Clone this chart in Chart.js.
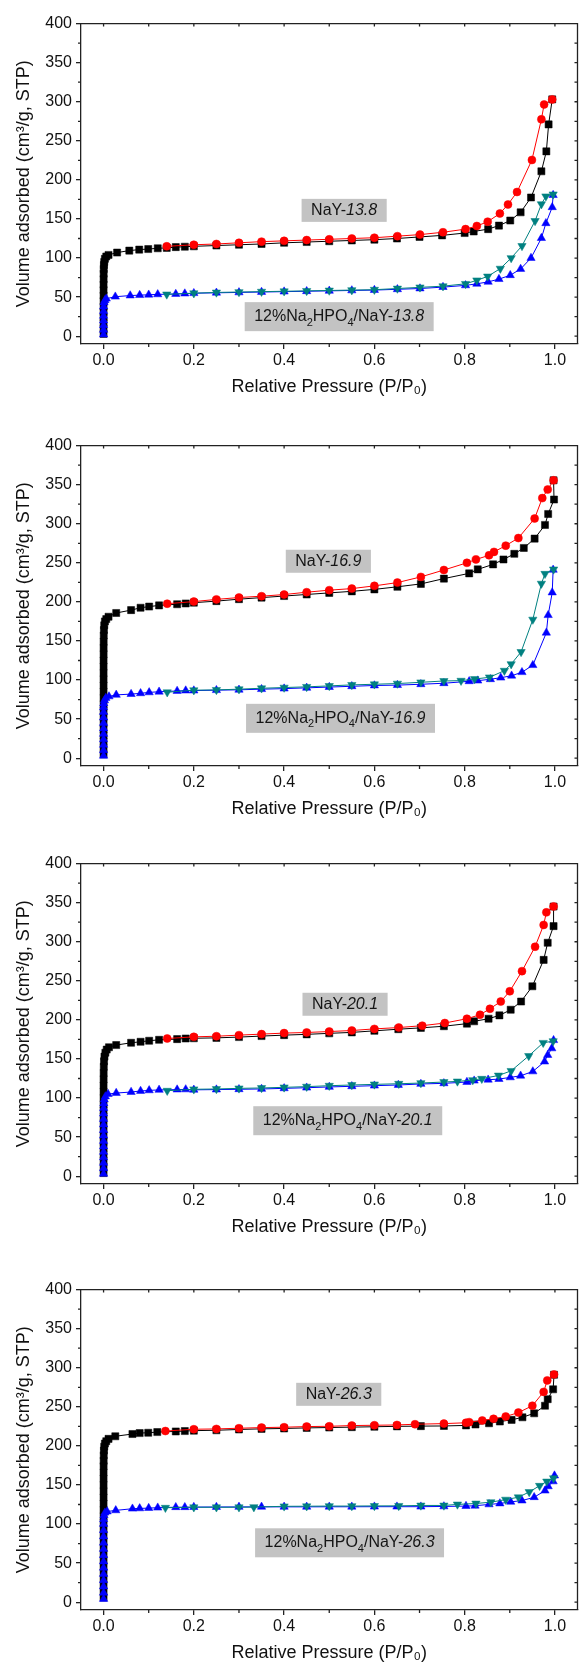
<!DOCTYPE html>
<html>
<head>
<meta charset="utf-8">
<script src="https://cdn.jsdelivr.net/npm/chart.js@4/dist/chart.umd.min.js"></script>
<style>
body { margin:0; background:#fff; width:583px; height:1667px; position:relative; overflow:hidden; }
canvas { position:absolute; left:0; }
</style>
</head>
<body>
<canvas id="c1" width="583" height="388" style="top:10px"></canvas>
<canvas id="c2" width="583" height="388" style="top:432px"></canvas>
<canvas id="c3" width="583" height="388" style="top:850px"></canvas>
<canvas id="c4" width="583" height="388" style="top:1276px"></canvas>
<script>
// sample labels (Si/Al ratio)
var samples = ['13.8', '16.9', '20.1', '26.3'];

// axis ticks
var xTicks = [0, 0.2, 0.4, 0.6, 0.8, 1.0];
var xMinor = [0.1, 0.3, 0.5, 0.7, 0.9];
var yTicks = [0, 50, 100, 150, 200, 250, 300, 350, 400];
var yMinor = [25, 75, 125, 175, 225, 275, 325, 375];

// ---- NaY-13.8 ----
var nay13AdsX = [0,0,0,0,0,0,0,0,0,0,0.0001,0.0002,0.0004,0.0008,0.0015,0.003,0.006,0.011,
    0.03,0.057,0.079,0.099,0.12,0.14,0.16,0.18,
    0.2,0.25,0.3,0.35,0.4,0.45,0.5,0.55,0.6,0.65,0.7,0.75,0.8,
    0.82,0.852,0.876,0.901,0.924,0.947,0.97,0.981,0.986,0.994];
var nay13AdsY = [3,10,17,24,31,38,45,52,59,66,73,80,86,91,95,99,102,104,
    107,109.5,110.8,111.5,112.5,113,114,114.5,
    115,116,117,118,119.5,120.5,121.5,122.5,123.5,125,127,129,132,
    134,137,141.5,148,158.5,177.5,211,236.5,271,303];
var nay13DesX = [0.994,0.976,0.970,0.949,0.916,0.896,0.878,0.851,0.827,0.802,0.752,0.701,0.651,0.6,0.55,0.5,0.45,0.4,0.35,0.3,0.25,0.2,0.14];
var nay13DesY = [303,296.5,277.5,225.5,184.5,168.5,157,146.5,141,137,133,130,128,126,125,124,123,122,121,119.5,118,117,115];
var hpo13AdsX = [0,0,0,0,0,0,0.0002,0.001,0.003,0.006,
    0.026,0.059,0.08,0.1,0.12,0.16,0.18,
    0.2,0.25,0.3,0.35,0.4,0.45,0.5,0.55,0.6,
    0.651,0.701,0.752,0.802,0.827,0.852,0.876,0.901,0.924,0.947,0.97,0.98,0.994,0.996];
var hpo13AdsY = [2,8,14,20,26,32,38,43,46,48,
    50.5,52,52.5,53,53.5,54,54.5,
    55,55.5,56,56.5,57,57.5,58,58.5,59,
    60,61,62.8,65,67,69.5,73,78,86,100,125.5,144.5,165,180.5];
var hpo13DesX = [0.996,0.98,0.97,0.956,0.927,0.903,0.879,0.851,0.827,0.802,0.752,0.701,0.651,0.6,0.55,0.5,0.45,0.4,0.35,0.3,0.25,0.2,0.14];
var hpo13DesY = [181.5,179,169,147.5,115.5,100,86.5,76.5,71.5,67,64,62.5,61,59.5,59,58.5,58,57.5,57,56.5,56,55,53.5];

// ---- NaY-16.9 ----
var nay16AdsX = [0,0,0,0,0,0,0,0,0,0,0,0,0,0,0,0,0.0001,0.0001,0.0002,0.0004,0.0008,0.0015,0.003,0.006,0.011,
    0.028,0.061,0.082,0.101,0.123,0.163,0.182,
    0.2,0.25,0.3,0.35,0.4,0.45,0.5,0.55,0.6,
    0.651,0.703,0.754,0.81,0.829,0.863,0.886,0.91,0.931,0.955,0.978,0.985,0.998,0.997];
var nay16AdsY = [5,13,21,29,37,45,53,61,69,77,85,93,101,109,117,125,133,141,149,157,164,170,175,178,181,
    185.8,189.5,192.5,194,195.5,197,198,
    199,201,203.5,205.5,207.5,209.5,211.5,213.5,216,
    219.3,223,229.8,236.5,241.6,248,254.3,261.5,269,281,298.5,312.5,331,355.6];
var nay16DesX = [0.997,0.984,0.972,0.955,0.919,0.891,0.865,0.854,0.825,0.805,0.754,0.703,0.651,0.6,0.55,0.5,0.45,0.4,0.35,0.3,0.25,0.2,0.141];
var nay16DesY = [355.6,343.8,332.8,306.7,281.7,272,264,259.6,254.3,250,240.8,232,224.7,220.5,217,215,212.4,209.4,207.3,205.6,203.2,200.4,197.7];
var hpo16AdsX = [0,0,0,0,0,0,0,0,0,0,0.0005,0.002,0.005,0.012,
    0.028,0.061,0.082,0.101,0.123,0.163,0.182,
    0.2,0.25,0.3,0.35,0.4,0.45,0.5,0.55,0.6,
    0.651,0.703,0.754,0.81,0.829,0.857,0.88,0.904,0.927,0.951,0.981,0.985,0.994,0.996];
var hpo16AdsY = [3,10,17,24,31,38,45,52,59,65,70,74,77,79,
    81,82,83,84.2,85,86,86.5,
    86.5,87,87.5,88.3,89,90,91,92,93,
    93.5,94.6,95.9,98.4,99.2,101,103,105.5,110,119,160.5,183,212,241];
var hpo16DesX = [0.997,0.978,0.97,0.951,0.925,0.903,0.888,0.855,0.822,0.792,0.754,0.703,0.651,0.6,0.55,0.5,0.45,0.4,0.35,0.3,0.25,0.2,0.141];
var hpo16DesY = [241.6,236,223.4,177.4,136,120.4,112,103.5,101.3,99.2,98.8,97.1,95.5,94.6,93.8,92.5,91.3,90.4,89.5,88.3,87.4,87,84.4];

// ---- NaY-20.1 ----
var nay20AdsX = [0,0,0,0,0,0,0,0,0,0,0,0,0,0,0,0.0001,0.0002,0.0005,0.001,0.002,0.004,0.007,0.012,
    0.028,0.061,0.082,0.101,0.123,0.163,0.182,
    0.2,0.25,0.3,0.35,0.4,0.45,0.5,0.55,0.6,
    0.653,0.703,0.754,0.805,0.821,0.853,0.877,0.902,0.925,0.95,0.975,0.984,0.997,0.997];
var nay20AdsY = [4,12,20,28,36,44,52,60,68,76,84,92,100,108,116,124,132,140,147,153,158,162,165,
    167.8,170.7,172,173.3,174.5,175.4,176.2,
    176.5,177,178,179.3,180.5,181.5,182.8,184,186,
    188.1,189.8,191.9,195.2,198.2,201.5,205.8,213,223.5,243,276.8,298.7,320,345];
var nay20DesX = [0.997,0.981,0.975,0.956,0.927,0.9,0.88,0.856,0.834,0.805,0.756,0.706,0.654,0.6,0.55,0.5,0.45,0.4,0.35,0.3,0.25,0.2,0.141];
var nay20DesY = [345.2,337.6,321.5,293.6,262.4,236.6,223.5,214.2,206.6,201.5,196,192.6,190.2,188.5,186.4,185.1,183.9,183.1,181.8,180.5,179.1,178.3,176.2];
var hpo20AdsX = [0,0,0,0,0,0,0,0,0,0,0,0,0.0002,0.0006,0.0015,0.004,0.01,
    0.028,0.061,0.082,0.101,0.123,0.163,0.182,
    0.2,0.25,0.3,0.35,0.4,0.45,0.5,0.55,0.6,
    0.653,0.703,0.754,0.805,0.821,0.852,0.876,0.901,0.924,0.951,0.977,0.984,0.993,0.997];
var hpo20AdsY = [3,10,17,24,31,38,45,52,59,66,73,80,87,93,98,102,105,
    106.4,107.7,109,109.8,110.4,110.8,111,
    110.5,110.8,111.2,111.6,112.4,113.2,114.2,115,115.8,
    116.7,118,118.8,120.5,122.2,123.4,124.3,126.4,128.5,134,146.6,155,163.5,174];
var hpo20DesX = [0.996,0.974,0.942,0.903,0.875,0.838,0.818,0.784,0.754,0.703,0.654,0.6,0.55,0.5,0.45,0.4,0.35,0.3,0.25,0.2,0.141];
var hpo20DesY = [172.8,170.7,153.9,134.8,128.9,124.7,123,121.3,120.5,119.2,118.3,117.5,116.7,115.8,114.6,113.7,112.9,112.4,111.6,111.2,109.4];

// ---- NaY-26.3 ----
var nay26AdsX = [0,0,0,0,0,0,0,0,0,0,0,0,0,0,0,0,0,0,0,0,0,0.0001,0.0002,0.0004,0.0008,0.0015,0.003,0.006,0.011,
    0.026,0.064,0.08,0.099,0.119,0.16,0.18,
    0.2,0.25,0.3,0.35,0.4,0.45,0.5,0.55,0.6,0.65,
    0.703,0.754,0.803,0.824,0.854,0.878,0.904,0.928,0.954,0.978,0.984,0.996,0.998];
var nay26AdsY = [6,14,22,30,38,46,54,62,70,78,86,94,102,110,118,126,134,142,150,158,166,174,181,188,194,199,203,206,209,
    212.3,215.2,216.4,216.8,217.7,218.5,219,
    219.5,220,221,221.8,222.3,223,223.5,224,224.5,225,
    225.3,225.5,226.2,227.4,229,231.2,233.3,236.6,241.7,251.4,259.8,272.4,291];
var nay26DesX = [0.998,0.983,0.975,0.95,0.919,0.891,0.864,0.839,0.81,0.803,0.754,0.69,0.65,0.6,0.55,0.5,0.45,0.4,0.35,0.3,0.25,0.2,0.137];
var nay26DesY = [291.4,283.8,269.1,251.4,242.6,237.6,234.6,232.5,230.4,229.6,228.5,227.7,226.8,226.4,226,225.1,224.7,223.9,223.4,222.6,221.7,221.3,219];
var hpo26AdsX = [0,0,0,0,0,0,0,0,0,0,0,0,0.0001,0.0003,0.001,0.003,0.008,
    0.027,0.064,0.08,0.1,0.12,0.16,0.18,
    0.2,0.25,0.3,0.35,0.4,0.45,0.5,0.55,0.6,0.65,
    0.703,0.754,0.803,0.823,0.854,0.878,0.902,0.927,0.954,0.978,0.985,0.996,0.999];
var hpo26AdsY = [4,12,20,28,36,44,52,60,68,76,84,92,100,106,111,114.5,116,
    117.5,119.6,120,120.4,120.9,121.5,121.5,
    121.7,121.8,121.9,122,122,122,122.1,122.1,122.2,122.2,
    122.2,122.5,123,123.4,125.1,126.3,128.4,130,134.3,142.7,148.2,154.5,162];
var hpo26DesX = [0.997,0.982,0.966,0.943,0.919,0.891,0.858,0.825,0.784,0.754,0.703,0.654,0.6,0.55,0.5,0.45,0.4,0.333,0.3,0.25,0.2,0.137];
var hpo26DesY = [158.7,154.5,149,141,134.3,131.3,128,126.3,125.1,123.8,123.8,123.3,123.2,123,123,122.8,122.7,121.7,121.5,121.5,121.5,120.9];

// where the two sample labels sit, in data units [x, y] for NaY / Na2HPO4 boxes
var labelSpots = [
    [[0.533, 161], [0.522, 25]],
    [[0.498, 252], [0.525, 51]],
    [[0.535, 220], [0.541, 71]],
    [[0.521, 266], [0.545, 76]]
];

var FONT = "'Liberation Sans', Arial, sans-serif";
var AXIS = '#222';
Chart.defaults.font.family = FONT;
Chart.defaults.color = '#111';

function series(xs, ys, color, style, radius, rotation) {
    return {
        data: xs.map(function(x, i) { return {x: x, y: ys[i]}; }),
        showLine: true,
        borderColor: color,
        borderWidth: 1,
        pointStyle: style,
        pointRadius: radius,
        pointHoverRadius: radius,
        pointRotation: rotation || 0,
        pointBackgroundColor: color,
        pointBorderColor: color,
        pointBorderWidth: 0.5
    };
}

function drawParts(ctx, parts, x, base, measureOnly) {
    var w = 0;
    parts.forEach(function(p) {
        ctx.font = (p.it ? 'italic ' : '') + (p.sub ? '11px ' : '16px ') + FONT;
        if (!measureOnly) ctx.fillText(p.t, x + w, base + (p.sub ? 4.5 : 0));
        w += ctx.measureText(p.t).width;
    });
    return w;
}

var framePlugin = {
    id: 'frame',
    beforeDatasetsDraw: function(chart, args, opts) {
        var ctx = chart.ctx, xs = chart.scales.x, ys = chart.scales.y;
        ctx.save();
        opts.boxes.forEach(function(b) {
            var cx = xs.getPixelForValue(b.x), cy = ys.getPixelForValue(b.y);
            var w = drawParts(ctx, b.parts, 0, 0, true) + 19;
            var h = b.h;
            ctx.fillStyle = '#c3c3c3';
            ctx.fillRect(cx - w / 2, cy - h / 2, w, h);
            ctx.fillStyle = '#151515';
            ctx.textBaseline = 'alphabetic';
            ctx.textAlign = 'left';
            drawParts(ctx, b.parts, cx - w / 2 + 9.5, cy + 4.5, false);
        });
        ctx.restore();
    },
    afterDraw: function(chart) {
        var ctx = chart.ctx, a = chart.chartArea, xs = chart.scales.x, ys = chart.scales.y;
        ctx.save();
        ctx.strokeStyle = AXIS;
        ctx.lineWidth = 1.3;
        ctx.beginPath();
        ctx.moveTo(a.left, a.top); ctx.lineTo(a.right, a.top); ctx.lineTo(a.right, a.bottom);
        // minor ticks outside left / bottom
        xMinor.forEach(function(v) {
            var px = xs.getPixelForValue(v);
            ctx.moveTo(px, a.bottom); ctx.lineTo(px, a.bottom + 3);
        });
        yMinor.forEach(function(v) {
            var py = ys.getPixelForValue(v);
            ctx.moveTo(a.left, py); ctx.lineTo(a.left - 3, py);
        });
        // mirrored ticks on top / right, pointing in
        xTicks.concat(xMinor).forEach(function(v) {
            var px = xs.getPixelForValue(v);
            ctx.moveTo(px, a.top); ctx.lineTo(px, a.top + 3);
        });
        yTicks.concat(yMinor).forEach(function(v) {
            var py = ys.getPixelForValue(v);
            ctx.moveTo(a.right, py); ctx.lineTo(a.right - 3, py);
        });
        ctx.stroke();
        ctx.restore();
    }
};

function makePanel(id, k, nayAdsX, nayAdsY, nayDesX, nayDesY, hpoAdsX, hpoAdsY, hpoDesX, hpoDesY) {
    var s = samples[k];
    var boxes = [
        {x: labelSpots[k][0][0], y: labelSpots[k][0][1], h: 23,
         parts: [{t: 'NaY-'}, {t: s, it: true}]},
        {x: labelSpots[k][1][0], y: labelSpots[k][1][1], h: 29,
         parts: [{t: '12%Na'}, {t: '2', sub: true}, {t: 'HPO'}, {t: '4', sub: true}, {t: '/NaY-'}, {t: s, it: true}]}
    ];
    var ctx = document.getElementById(id).getContext('2d');
    var config = {
        type: 'scatter',
        data: {
            datasets: [
                series(hpoDesX, hpoDesY, '#008080', 'triangle', 4.8, 180),
                series(hpoAdsX, hpoAdsY, '#0000ff', 'triangle', 4.8, 0),
                series(nayDesX, nayDesY, '#ff0000', 'circle', 4, 0),
                series(nayAdsX, nayAdsY, '#000000', 'rect', 5, 0)
            ]
        },
        options: {
            responsive: false,
            animation: false,
            devicePixelRatio: 1,
            layout: { padding: { top: 10, right: 1, bottom: 0, left: 0 } },
            plugins: {
                legend: { display: false },
                tooltip: { enabled: false },
                frame: { boxes: boxes }
            },
            scales: {
                x: {
                    type: 'linear', min: -0.05, max: 1.05,
                    afterBuildTicks: function(sc) { sc.ticks = xTicks.map(function(v) { return {value: v}; }); },
                    afterFit: function(sc) { sc.height = 54; },
                    ticks: { font: { size: 16 }, padding: 2, maxRotation: 0,
                             callback: function(v) { return v.toFixed(1); } },
                    grid: { drawOnChartArea: false, drawTicks: true, tickLength: 5, color: AXIS, lineWidth: 1.3 },
                    border: { display: true, color: AXIS, width: 1.3 },
                    title: { display: true, text: 'Relative Pressure (P/P\u2080)',
                             font: { size: 18, lineHeight: 1.2 }, padding: { top: 0, bottom: 0 } }
                },
                y: {
                    type: 'linear', min: -10, max: 400,
                    afterBuildTicks: function(sc) { sc.ticks = yTicks.map(function(v) { return {value: v}; }); },
                    afterFit: function(sc) { sc.width = 81; },
                    ticks: { font: { size: 16 }, padding: 4,
                             callback: function(v) { return String(v); } },
                    grid: { drawOnChartArea: false, drawTicks: true, tickLength: 5, color: AXIS, lineWidth: 1.3 },
                    border: { display: true, color: AXIS, width: 1.3 },
                    title: { display: true, text: 'Volume adsorbed (cm\u00b3/g, STP)',
                             font: { size: 18, lineHeight: 1.2 }, padding: { top: 13, bottom: 0 } }
                }
            }
        },
        plugins: [framePlugin]
    };
    return new Chart(ctx, config);
}

makePanel('c1', 0, nay13AdsX, nay13AdsY, nay13DesX, nay13DesY, hpo13AdsX, hpo13AdsY, hpo13DesX, hpo13DesY);
makePanel('c2', 1, nay16AdsX, nay16AdsY, nay16DesX, nay16DesY, hpo16AdsX, hpo16AdsY, hpo16DesX, hpo16DesY);
makePanel('c3', 2, nay20AdsX, nay20AdsY, nay20DesX, nay20DesY, hpo20AdsX, hpo20AdsY, hpo20DesX, hpo20DesY);
makePanel('c4', 3, nay26AdsX, nay26AdsY, nay26DesX, nay26DesY, hpo26AdsX, hpo26AdsY, hpo26DesX, hpo26DesY);
</script>
</body>
</html>
